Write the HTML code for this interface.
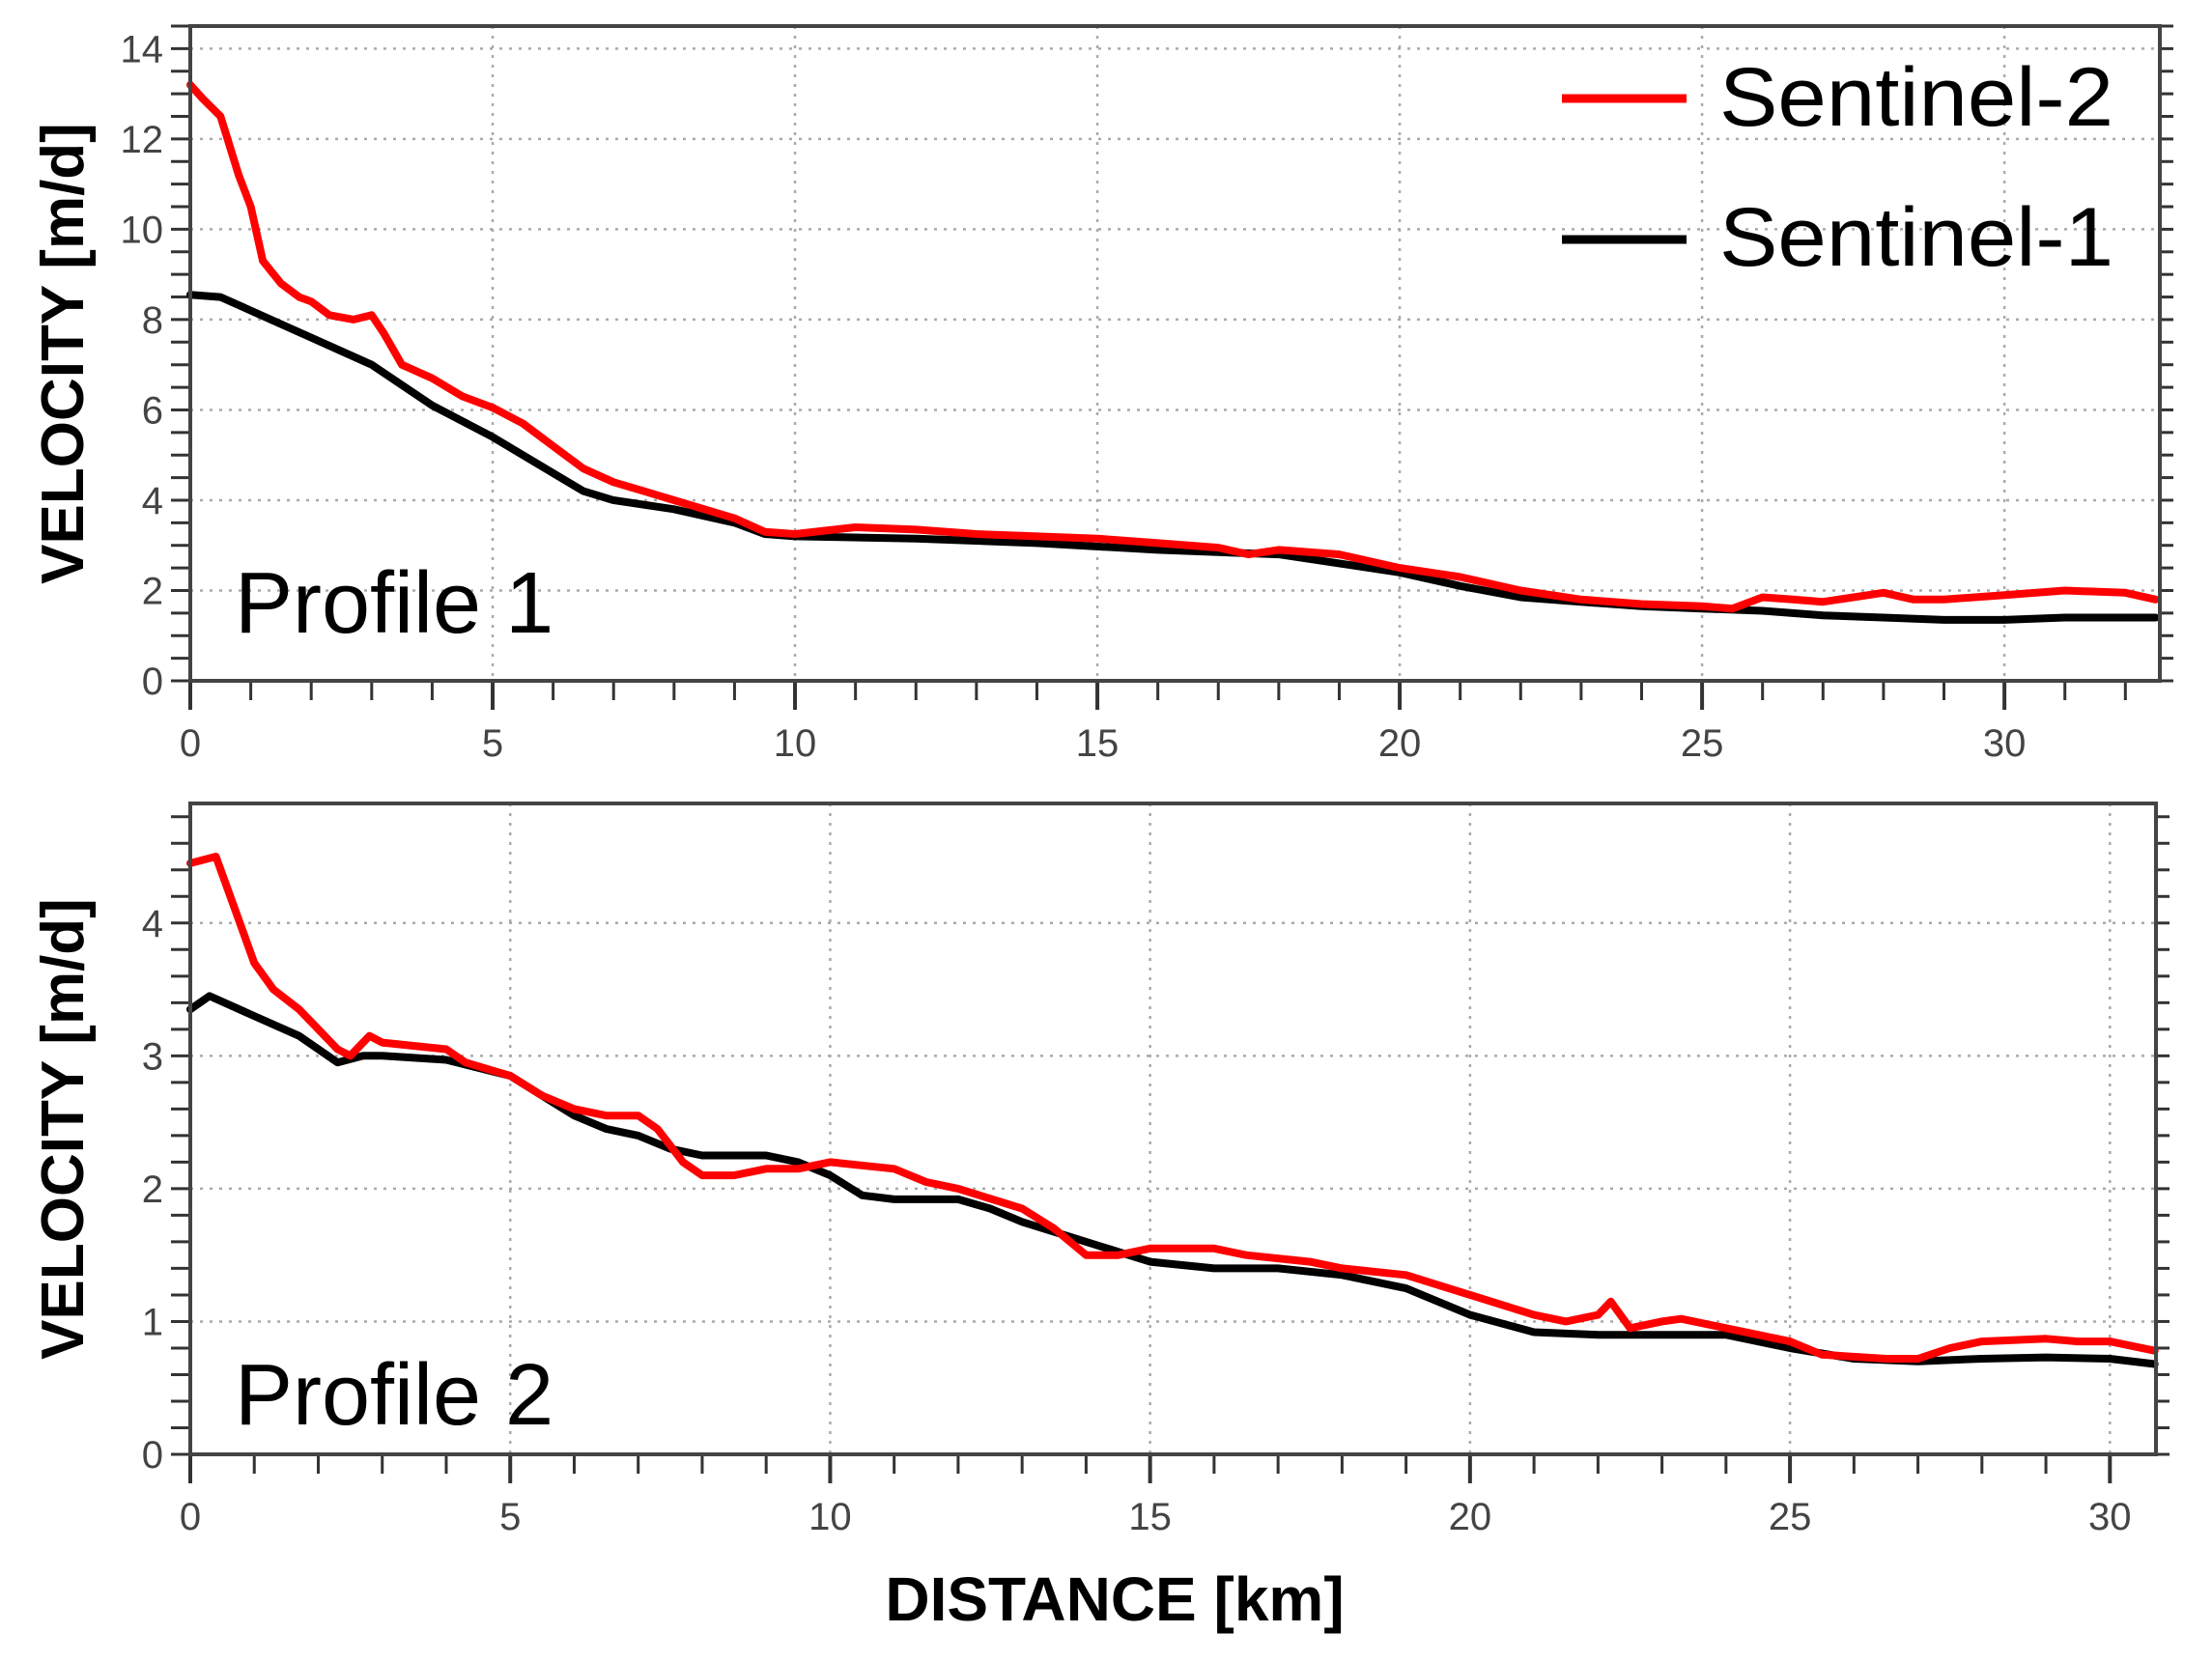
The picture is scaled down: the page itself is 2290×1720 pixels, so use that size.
<!DOCTYPE html>
<html><head><meta charset="utf-8"><style>
html,body{margin:0;padding:0;background:#fff;}
svg{display:block;font-family:"Liberation Sans",sans-serif;}
</style></head><body>
<svg id="chart" width="2290" height="1720" viewBox="0 0 2290 1720">
<g id="p1"></g>
<g id="p2"></g>
<text x="1154" y="1678" font-size="64" font-weight="bold" text-anchor="middle">DISTANCE [km]</text>
</svg>
<script>
const p1DistS2=[0,0.2,0.5,0.8,1,1.2,1.5,1.8,2,2.3,2.7,3,3.2,3.5,4,4.5,5,5.5,6,6.5,7,7.5,8,8.5,9,9.5,10,11,12,13,14,15,16,17,17.5,18,19,20,21,22,23,24,25,25.5,26,26.5,27,28,28.5,29,30,31,32,32.5];
const p1VelS2=[13.2,12.9,12.5,11.2,10.5,9.3,8.8,8.5,8.4,8.1,8.0,8.1,7.7,7.0,6.7,6.3,6.05,5.7,5.2,4.7,4.4,4.2,4.0,3.8,3.6,3.3,3.25,3.4,3.35,3.25,3.2,3.15,3.05,2.95,2.8,2.9,2.8,2.5,2.3,2.0,1.8,1.7,1.65,1.6,1.85,1.8,1.75,1.95,1.8,1.8,1.9,2.0,1.95,1.8];
const p1DistS1=[0,0.5,1,2,3,4,5,6,6.5,7,8,9,9.5,10,12,14,16,18,19,20,21,22,23,24,25,26,27,28,29,30,31,32.5];
const p1VelS1=[8.55,8.5,8.2,7.6,7.0,6.1,5.4,4.6,4.2,4.0,3.8,3.5,3.25,3.2,3.15,3.05,2.9,2.8,2.6,2.4,2.1,1.85,1.75,1.65,1.6,1.55,1.45,1.4,1.35,1.35,1.4,1.4];
const p2DistS2=[0,0.4,0.7,1,1.3,1.7,2,2.3,2.5,2.8,3,4,4.3,5,5.5,6,6.5,7,7.3,7.7,8,8.5,9,9.5,10,11,11.5,12,13,13.5,14,14.5,15,16,16.5,17.5,18,19,20,21,21.5,22,22.2,22.5,23,23.3,24,25,25.5,26.5,27,27.5,28,29,29.5,30,30.7];
const p2VelS2=[4.45,4.5,4.1,3.7,3.5,3.35,3.2,3.05,3.0,3.15,3.1,3.05,2.95,2.85,2.7,2.6,2.55,2.55,2.45,2.2,2.1,2.1,2.15,2.15,2.2,2.15,2.05,2.0,1.85,1.7,1.5,1.5,1.55,1.55,1.5,1.45,1.4,1.35,1.2,1.05,1.0,1.05,1.15,0.95,1.0,1.02,0.95,0.85,0.75,0.72,0.72,0.8,0.85,0.87,0.85,0.85,0.78];
const p2DistS1=[0,0.3,1,1.7,2.3,2.7,3,4,5,5.5,6,6.5,7,7.5,8,9,9.5,10,10.5,11,12,12.5,13,14,15,16,17,18,19,20,21,22,23,24,25,26,27,28,29,30,30.7];
const p2VelS1=[3.35,3.45,3.3,3.15,2.95,3.0,3.0,2.97,2.85,2.7,2.55,2.45,2.4,2.3,2.25,2.25,2.2,2.1,1.95,1.92,1.92,1.85,1.75,1.6,1.45,1.4,1.4,1.35,1.25,1.05,0.92,0.9,0.9,0.9,0.8,0.72,0.7,0.72,0.73,0.72,0.68];
const p1XTicks=[0,5,10,15,20,25,30];
const p1YTicks=[0,2,4,6,8,10,12,14];
const p2XTicks=[0,5,10,15,20,25,30];
const p2YTicks=[0,1,2,3,4];

const NS="http://www.w3.org/2000/svg";
function mk(parent,tag,attrs){const e=document.createElementNS(NS,tag);for(const k in attrs)e.setAttribute(k,attrs[k]);parent.appendChild(e);return e;}

function panel(g,cfg){
  const {L,R,T,B,xmax,ymax,xTicks,yTicks,yMinor,label,labelY,series,legend}=cfg;
  const sx=v=>L+(v/xmax)*(R-L);
  const sy=v=>B-(v/ymax)*(B-T);
  xTicks.forEach(t=>{if(t>0){const l=mk(g,'line',{x1:sx(t),x2:sx(t),y1:T,y2:B,stroke:'#aaa','stroke-width':2.5,'stroke-dasharray':'3 7'});
    
    }});
  yTicks.forEach(t=>{if(t>0){const l=mk(g,'line',{x1:L,x2:R,y1:sy(t),y2:sy(t),stroke:'#aaa','stroke-width':2.5,'stroke-dasharray':'3 7'});
    
    }});
  for(let v=0;v<=xmax+1e-9;v+=1){const major=Math.abs(v%5)<1e-9;
    const t=mk(g,'line',{x1:sx(v),x2:sx(v),y1:B,y2:B+(major?30:20),stroke:'#333','stroke-width':major?4:3});
    
    }
  for(let v=0;v<=ymax+1e-9;v+=yMinor){
    const t=mk(g,'line',{x1:L-20,x2:L,y1:sy(v),y2:sy(v),stroke:'#333','stroke-width':3});
    
    
    const t2=mk(g,'line',{x1:R,x2:R+14,y1:sy(v),y2:sy(v),stroke:'#333','stroke-width':3});
    
    }
  xTicks.forEach(t=>{const tx=mk(g,'text',{x:sx(t),y:B+78,'font-size':40,'text-anchor':'middle',fill:'#444'});tx.textContent=t;
    
    });
  yTicks.forEach(t=>{const tx=mk(g,'text',{x:L-28,y:sy(t)+14,'font-size':40,'text-anchor':'end',fill:'#444'});tx.textContent=t;
    
    });
  series.forEach(s=>{const d=s.x.map((v,i)=>(i?'L':'M')+sx(v).toFixed(1)+' '+sy(s.y[i]).toFixed(1)).join(' ');
    const p=mk(g,'path',{d:d,fill:'none',stroke:s.color,'stroke-width':8,'stroke-linejoin':'round','stroke-linecap':'round'});
    
    });
  const fr=mk(g,'rect',{x:L,y:T,width:R-L,height:B-T,fill:'none',stroke:'#444','stroke-width':4});
  
  
  const yt=mk(g,'text',{x:0,y:0,'font-size':62,'font-weight':'bold','text-anchor':'middle',transform:`translate(86,${(T+B)/2}) rotate(-90)`});
  yt.textContent='VELOCITY [m/d]';
  
  
  const pl=mk(g,'text',{x:L+46,y:labelY,'font-size':90});pl.textContent=label;
  
  
  if(legend){
    [['Sentinel-2','red',102,130],['Sentinel-1','#000',248,275]].forEach(([n,c,ly,ty])=>{
      const ln=mk(g,'line',{x1:1617,x2:1746,y1:ly,y2:ly,stroke:c,'stroke-width':9});
      
      
      const tx=mk(g,'text',{x:1780,y:ty,'font-size':86,textLength:408,lengthAdjust:'spacingAndGlyphs'});tx.textContent=n;
      
      });
  }
}
panel(document.getElementById('p1'),{L:197,R:2236,T:27,B:705,xmax:32.57,ymax:14.5,xTicks:p1XTicks,yTicks:p1YTicks,yMinor:0.5,label:'Profile 1',labelY:655,
  series:[{x:p1DistS1,y:p1VelS1,color:'#000',name:'sentinel-1-line'},{x:p1DistS2,y:p1VelS2,color:'#f00',name:'sentinel-2-line'}],legend:true});
panel(document.getElementById('p2'),{L:197,R:2232,T:832,B:1506,xmax:30.72,ymax:4.9,xTicks:p2XTicks,yTicks:p2YTicks,yMinor:0.2,label:'Profile 2',labelY:1475,
  series:[{x:p2DistS1,y:p2VelS1,color:'#000',name:'sentinel-1-line'},{x:p2DistS2,y:p2VelS2,color:'#f00',name:'sentinel-2-line'}],legend:false});
</script>
</body></html>
